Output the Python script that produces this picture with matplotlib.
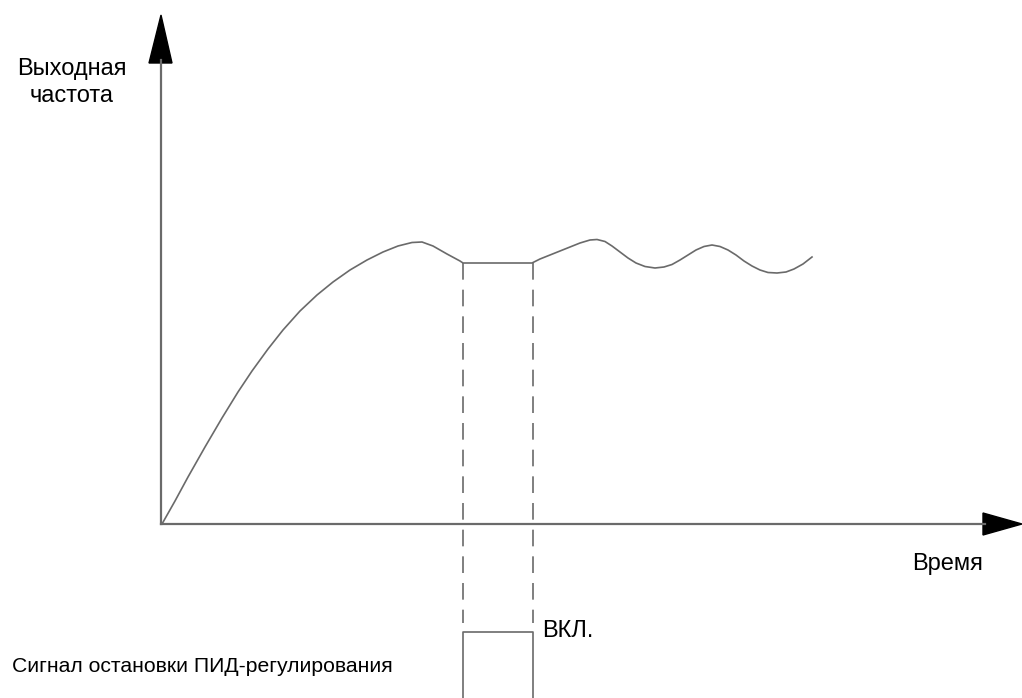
import matplotlib.pyplot as plt

plt.rcParams['font.family'] = ['Liberation Sans', 'DejaVu Sans']

# оси (координаты рисунка, 0..1022 по времени, 0..698 сверху вниз)
origen_t = 161
origen_f = 524
fin_eje_t = 1022
fin_eje_f = 15

# выходная частота
curva_t = [162, 175, 188, 205, 222, 238, 252, 268, 283, 300, 317, 333, 350, 367, 383,
           398, 412, 422, 433, 447, 460, 463,
           532, 540, 550, 560, 570, 580, 590, 597, 605, 612, 620, 628, 636, 645, 655,
           664, 672, 680, 688, 696, 704, 712, 720, 728, 736, 744, 752, 760, 768, 777,
           786, 794, 803, 812]
curva_f = [524, 501, 477, 447, 418, 392, 371, 349, 330, 311, 295, 282, 270, 260, 252,
           246, 242.5, 242, 246, 254, 261, 263,
           263, 259, 255, 251, 247, 243, 240, 239.5, 241.5, 246, 252, 258, 263, 266.5, 268,
           267, 264.5, 260, 255, 250, 246.5, 245, 246.5, 250, 255, 261, 266, 270, 272.5, 273,
           272, 269, 264, 257]

# сигнал остановки ПИД
pid_on = 463
pid_off = 533
pid_nivel = 632
pid_base = 698
fin_guia = 623

gris = '#6a6a6a'

fig = plt.figure(figsize=(10.22, 6.98), dpi=100)
ax = fig.add_axes([0, 0, 1, 1])
ax.set_xlim(0, 1022)
ax.set_ylim(698, 0)
ax.axis('off')

# оси со стрелками
ax.plot([origen_t, origen_t], [origen_f, 60], color=gris, lw=1.6)
ax.plot([origen_t, 985], [origen_f, origen_f], color=gris, lw=1.6)
ax.fill([origen_t - 12, origen_t + 11, origen_t], [63, 63, fin_eje_f], color='black')
ax.fill([983, 983, fin_eje_t], [origen_f - 11, origen_f + 11, origen_f], color='black')

ax.plot(curva_t, curva_f, color=gris, lw=1.2, solid_joinstyle='round')

# пунктирные направляющие
for t in [pid_on, pid_off]:
    ax.plot([t, t], [263, fin_guia], color=gris, lw=1.2, dashes=(10, 6))

ax.plot([pid_on, pid_on, pid_off, pid_off], [pid_base, pid_nivel, pid_nivel, pid_base],
        color=gris, lw=1.2)

ax.text(72, 75, 'Выходная', fontsize=17, ha='center', va='baseline')
ax.text(72, 102, 'частота', fontsize=17, ha='center', va='baseline')
ax.text(948, 570, 'Время', fontsize=17, ha='center', va='baseline')
ax.text(542, 637, 'ВКЛ.', fontsize=17, ha='left', va='baseline')
ax.text(12, 672, 'Сигнал остановки ПИД-регулирования', fontsize=15.2, ha='left',
        va='baseline')

plt.savefig('out.png', dpi=100)
